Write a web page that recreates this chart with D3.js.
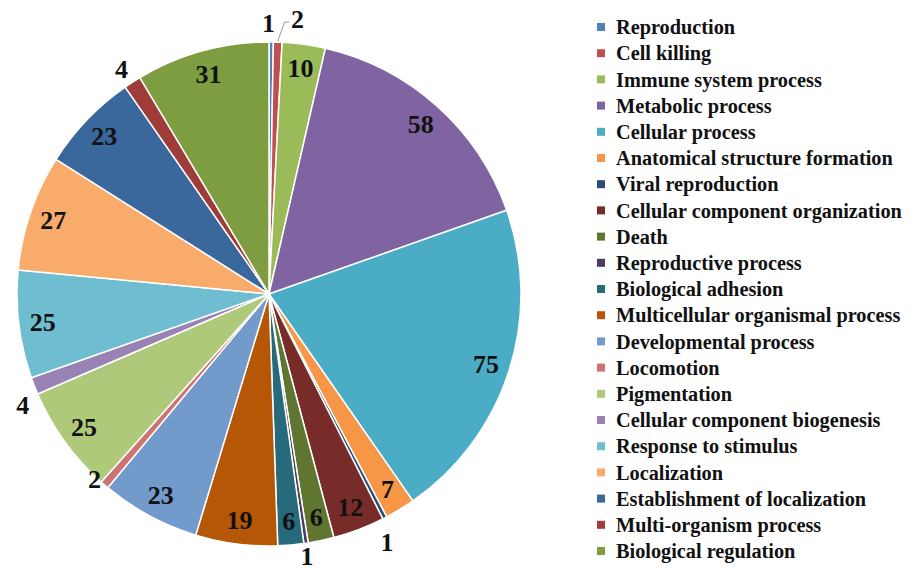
<!DOCTYPE html>
<html>
<head>
<meta charset="utf-8">
<script src="https://cdn.jsdelivr.net/npm/d3@7"></script>
<style>
  html, body { margin: 0; padding: 0; background: #fff; }
  svg { display: block; }
  text { font-family: "Liberation Serif", "Times New Roman", serif; font-weight: bold; fill: #111; }
</style>
</head>
<body>
<svg id="chart" width="919" height="571"></svg>
<script>
// ---- data ----
const categories = [
  "Reproduction", "Cell killing", "Immune system process", "Metabolic process",
  "Cellular process", "Anatomical structure formation", "Viral reproduction",
  "Cellular component organization", "Death", "Reproductive process",
  "Biological adhesion", "Multicellular organismal process", "Developmental process",
  "Locomotion", "Pigmentation", "Cellular component biogenesis", "Response to stimulus",
  "Localization", "Establishment of localization", "Multi-organism process",
  "Biological regulation"
];
const values = [1, 2, 10, 58, 75, 7, 1, 12, 6, 1, 6, 19, 23, 2, 25, 4, 25, 27, 23, 4, 31];
const colors = [
  "#4F81BD", "#C0504D", "#9BBB59", "#8064A2", "#4BACC6", "#F79646",
  "#2C4D75", "#772C2A", "#5F7530", "#4D3B62", "#276A7C", "#B65708",
  "#729ACA", "#CD7371", "#AFC97A", "#9983B5", "#6FBDD1", "#F9AB6B",
  "#3A679C", "#9F3B38", "#7E9C40"
];

// ---- layout ----
const svg = d3.select("#chart");
const cx = 269, cy = 294, R = 252;
const data = categories.map((c, i) => ({ name: c, value: values[i], color: colors[i] }));

const pie = d3.pie().value(d => d.value).sort(null).startAngle(0).endAngle(2 * Math.PI);
const arcs = pie(data);
const arc = d3.arc().innerRadius(0).outerRadius(R);
const labelArcIn = d3.arc().innerRadius(228).outerRadius(228);
const labelArcOut = d3.arc().innerRadius(272).outerRadius(272);

const g = svg.append("g").attr("transform", `translate(${cx},${cy})`);

g.selectAll("path.slice")
  .data(arcs)
  .enter().append("path")
  .attr("class", "slice")
  .attr("d", arc)
  .attr("fill", d => d.data.color)
  .attr("stroke", "#fff")
  .attr("stroke-width", 1.5)
  .attr("stroke-linejoin", "round");

// small nudges for outside labels (placement like the original)
const outsideNudge = {
  "Reproduction": [-3, 1],
  "Cell killing": [19, -3],
  "Viral reproduction": [-7, 6],
  "Reproductive process": [-2, -7],
  "Locomotion": [3, -21],
  "Cellular component biogenesis": [7, 12],
  "Multi-organism process": [0, 3]
};

arcs.forEach(d => {
  const outside = d.data.value < 5;
  let [x, y] = (outside ? labelArcOut : labelArcIn).centroid(d);
  if (outside && outsideNudge[d.data.name]) {
    x += outsideNudge[d.data.name][0];
    y += outsideNudge[d.data.name][1];
  }
  g.append("text")
    .attr("x", x).attr("y", y)
    .attr("dy", "0.35em")
    .attr("text-anchor", "middle")
    .style("font-size", "26px")
    .text(d.data.value);
  if (d.data.name === "Cell killing") {
    const [ex, ey] = d3.arc().innerRadius(R + 1).outerRadius(R + 1).centroid(d);
    g.append("polyline")
      .attr("points", `${ex},${ey} ${x - 13},${y + 3} ${x - 8},${y + 3}`)
      .attr("fill", "none")
      .attr("stroke", "#999")
      .attr("stroke-width", 1);
  }
});

// ---- legend ----
const leg = svg.append("g").attr("transform", "translate(597,27)");
const step = 26.2;
const items = leg.selectAll("g.item").data(data).enter().append("g")
  .attr("class", "item")
  .attr("transform", (d, i) => `translate(0,${i * step})`);
items.append("rect")
  .attr("x", 0).attr("y", -4).attr("width", 8).attr("height", 8)
  .attr("fill", d => d.color);
items.append("text")
  .attr("x", 19).attr("y", 0).attr("dy", "0.35em")
  .style("font-size", "20.3px")
  .text(d => d.name);
</script>
</body>
</html>
